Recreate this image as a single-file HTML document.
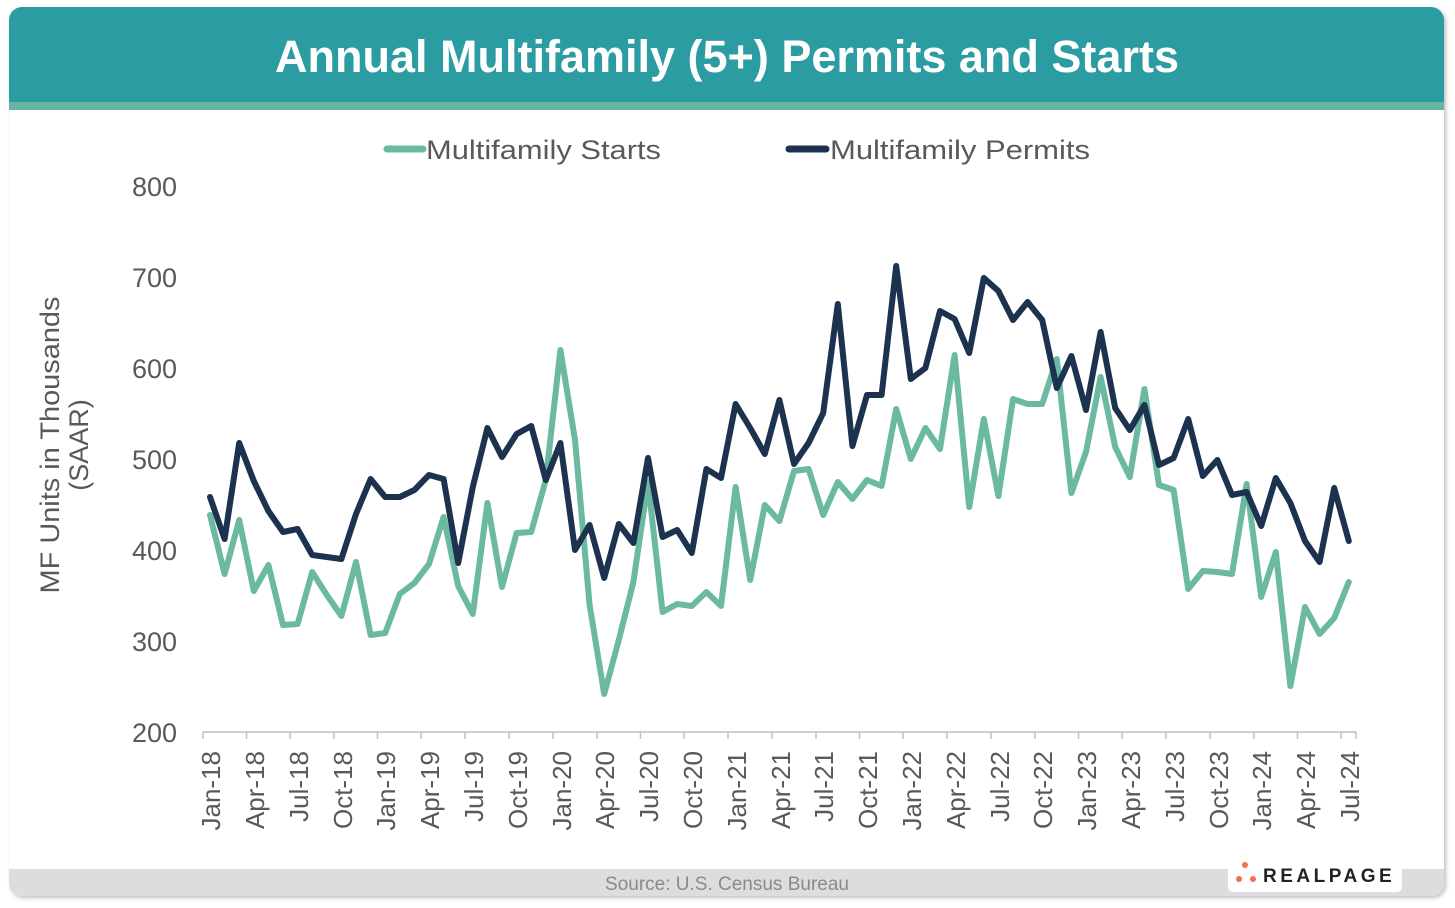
<!DOCTYPE html>
<html><head><meta charset="utf-8"><style>
body{margin:0;width:1455px;height:903px;background:#fff;overflow:hidden;font-family:"Liberation Sans",sans-serif}
</style></head><body>
<svg width="1455" height="903" xmlns="http://www.w3.org/2000/svg" font-family="Liberation Sans, sans-serif">
<defs><clipPath id="c"><rect x="9" y="7" width="1435" height="889" rx="13"/></clipPath>
<filter id="s" x="-5%" y="-5%" width="110%" height="110%"><feDropShadow dx="2" dy="2" stdDeviation="2" flood-color="#000" flood-opacity="0.25"/></filter></defs>
<rect x="9" y="7" width="1435" height="889" rx="13" fill="#fff" filter="url(#s)"/>
<g clip-path="url(#c)">
<rect x="9" y="7" width="1435" height="95" fill="#2c9ca3"/>
<rect x="9" y="102" width="1435" height="8" fill="#66b5a0"/>
<rect x="9" y="869" width="1435" height="30" fill="#dcdddf"/>
</g>
<text x="727" y="72" font-size="45" font-weight="bold" fill="#fff" text-anchor="middle">Annual Multifamily (5+) Permits and Starts</text>
<line x1="387" y1="149" x2="423" y2="149" stroke="#6bb9a0" stroke-width="7" stroke-linecap="round"/>
<text x="426" y="159" font-size="27" fill="#595959" textLength="235" lengthAdjust="spacingAndGlyphs">Multifamily Starts</text>
<line x1="789" y1="149" x2="826" y2="149" stroke="#1c324f" stroke-width="7" stroke-linecap="round"/>
<text x="830" y="159" font-size="27" fill="#595959" textLength="260" lengthAdjust="spacingAndGlyphs">Multifamily Permits</text>
<g font-size="27" fill="#595959" text-anchor="end">
<text x="177" y="196">800</text><text x="177" y="287">700</text><text x="177" y="378">600</text><text x="177" y="469">500</text><text x="177" y="560">400</text><text x="177" y="651">300</text><text x="177" y="742">200</text>
</g>
<text transform="translate(59,445) rotate(-90)" font-size="27" fill="#595959" text-anchor="middle" textLength="297" lengthAdjust="spacingAndGlyphs">MF Units in Thousands</text>
<text transform="translate(88,445) rotate(-90)" font-size="27" fill="#595959" text-anchor="middle">(SAAR)</text>
<line x1="203" y1="732" x2="1356" y2="732" stroke="#bfbfbf" stroke-width="1.5"/>
<g stroke="#bfbfbf" stroke-width="1.5">
<line x1="203" y1="732" x2="203" y2="739"/><line x1="246.5" y1="732" x2="246.5" y2="739"/><line x1="290" y1="732" x2="290" y2="739"/><line x1="334" y1="732" x2="334" y2="739"/><line x1="377.5" y1="732" x2="377.5" y2="739"/><line x1="421" y1="732" x2="421" y2="739"/><line x1="465" y1="732" x2="465" y2="739"/><line x1="509" y1="732" x2="509" y2="739"/><line x1="553" y1="732" x2="553" y2="739"/><line x1="597" y1="732" x2="597" y2="739"/><line x1="640.5" y1="732" x2="640.5" y2="739"/><line x1="684" y1="732" x2="684" y2="739"/><line x1="728" y1="732" x2="728" y2="739"/><line x1="772" y1="732" x2="772" y2="739"/><line x1="816" y1="732" x2="816" y2="739"/><line x1="859.5" y1="732" x2="859.5" y2="739"/><line x1="903" y1="732" x2="903" y2="739"/><line x1="947" y1="732" x2="947" y2="739"/><line x1="991" y1="732" x2="991" y2="739"/><line x1="1035" y1="732" x2="1035" y2="739"/><line x1="1078.5" y1="732" x2="1078.5" y2="739"/><line x1="1122" y1="732" x2="1122" y2="739"/><line x1="1166" y1="732" x2="1166" y2="739"/><line x1="1210" y1="732" x2="1210" y2="739"/><line x1="1254" y1="732" x2="1254" y2="739"/><line x1="1297.5" y1="732" x2="1297.5" y2="739"/><line x1="1341" y1="732" x2="1341" y2="739"/><line x1="1356" y1="732" x2="1356" y2="739"/>
</g>
<g font-size="26" fill="#595959" text-anchor="end">
<text transform="translate(220,751) rotate(-90)">Jan-18</text>
<text transform="translate(264,751) rotate(-90)">Apr-18</text>
<text transform="translate(308,751) rotate(-90)">Jul-18</text>
<text transform="translate(352,751) rotate(-90)">Oct-18</text>
<text transform="translate(395,751) rotate(-90)">Jan-19</text>
<text transform="translate(439,751) rotate(-90)">Apr-19</text>
<text transform="translate(483,751) rotate(-90)">Jul-19</text>
<text transform="translate(527,751) rotate(-90)">Oct-19</text>
<text transform="translate(571,751) rotate(-90)">Jan-20</text>
<text transform="translate(614,751) rotate(-90)">Apr-20</text>
<text transform="translate(658,751) rotate(-90)">Jul-20</text>
<text transform="translate(702,751) rotate(-90)">Oct-20</text>
<text transform="translate(746,751) rotate(-90)">Jan-21</text>
<text transform="translate(790,751) rotate(-90)">Apr-21</text>
<text transform="translate(833,751) rotate(-90)">Jul-21</text>
<text transform="translate(877,751) rotate(-90)">Oct-21</text>
<text transform="translate(921,751) rotate(-90)">Jan-22</text>
<text transform="translate(965,751) rotate(-90)">Apr-22</text>
<text transform="translate(1009,751) rotate(-90)">Jul-22</text>
<text transform="translate(1052,751) rotate(-90)">Oct-22</text>
<text transform="translate(1096,751) rotate(-90)">Jan-23</text>
<text transform="translate(1140,751) rotate(-90)">Apr-23</text>
<text transform="translate(1184,751) rotate(-90)">Jul-23</text>
<text transform="translate(1228,751) rotate(-90)">Oct-23</text>
<text transform="translate(1271,751) rotate(-90)">Jan-24</text>
<text transform="translate(1315,751) rotate(-90)">Apr-24</text>
<text transform="translate(1359,751) rotate(-90)">Jul-24</text>
</g>
<g transform="translate(210,0) scale(14.6,1)" fill="none" stroke-linejoin="round" stroke-linecap="round">
<polyline vector-effect="non-scaling-stroke" stroke="#6bb9a0" stroke-width="6" points="0,515 1,574 2,520 3,591 4,565 5,625 6,624 7,572 8,595 9,616 10,562 11,635 12,633 13,594 14,583 15,564 16,517 17,586 18,614 19,503 20,587 21,533 22,532 23,480 24,350 25,440 26,605 27,694 28,640 29,582 30,482 31,612 32,604 33,606 34,592 35,606 36,487 37,580 38,505 39,521 40,471 41,469 42,515 43,482 44,499 45,480 46,486 47,409 48,459 49,428 50,449 51,355 52,507 53,419 54,496 55,399 56,404 57,404 58,359 59,493 60,452 61,377 62,447 63,477 64,389 65,485 66,490 67,589 68,571 69,572 70,574 71,484 72,597 73,552 74,686 75,607 76,634 77,618 78,582"/>
<polyline vector-effect="non-scaling-stroke" stroke="#1c324f" stroke-width="6" points="0,497 1,539 2,443 3,481 4,511 5,532 6,529 7,555 8,557 9,559 10,514 11,479 12,497 13,497 14,490 15,475 16,479 17,563 18,487 19,428 20,457 21,434 22,426 23,480 24,443 25,550 26,525 27,578 28,524 29,543 30,458 31,537 32,530 33,553 34,469 35,478 36,404 37,428 38,454 39,400 40,464 41,443 42,413 43,304 44,446 45,395 46,395 47,266 48,379 49,368 50,311 51,319 52,353 53,278 54,291 55,320 56,302 57,320 58,388 59,356 60,410 61,332 62,408 63,430 64,405 65,465 66,458 67,419 68,476 69,460 70,495 71,492 72,526 73,478 74,503 75,541 76,562 77,488 78,541"/>
</g>
<text x="727" y="890" font-size="19" fill="#8a8a8a" text-anchor="middle">Source: U.S. Census Bureau</text>
<rect x="1228" y="862" width="174" height="30" rx="5" fill="#fff"/>
<circle cx="1245" cy="865" r="3" fill="#ef6f4e"/><circle cx="1239" cy="879" r="3" fill="#ef6f4e"/><circle cx="1253" cy="879" r="3" fill="#ef6f4e"/>
<text x="1263" y="882" font-size="19" font-weight="bold" fill="#222" letter-spacing="3.5">REALPAGE</text>
</svg>
</body></html>
